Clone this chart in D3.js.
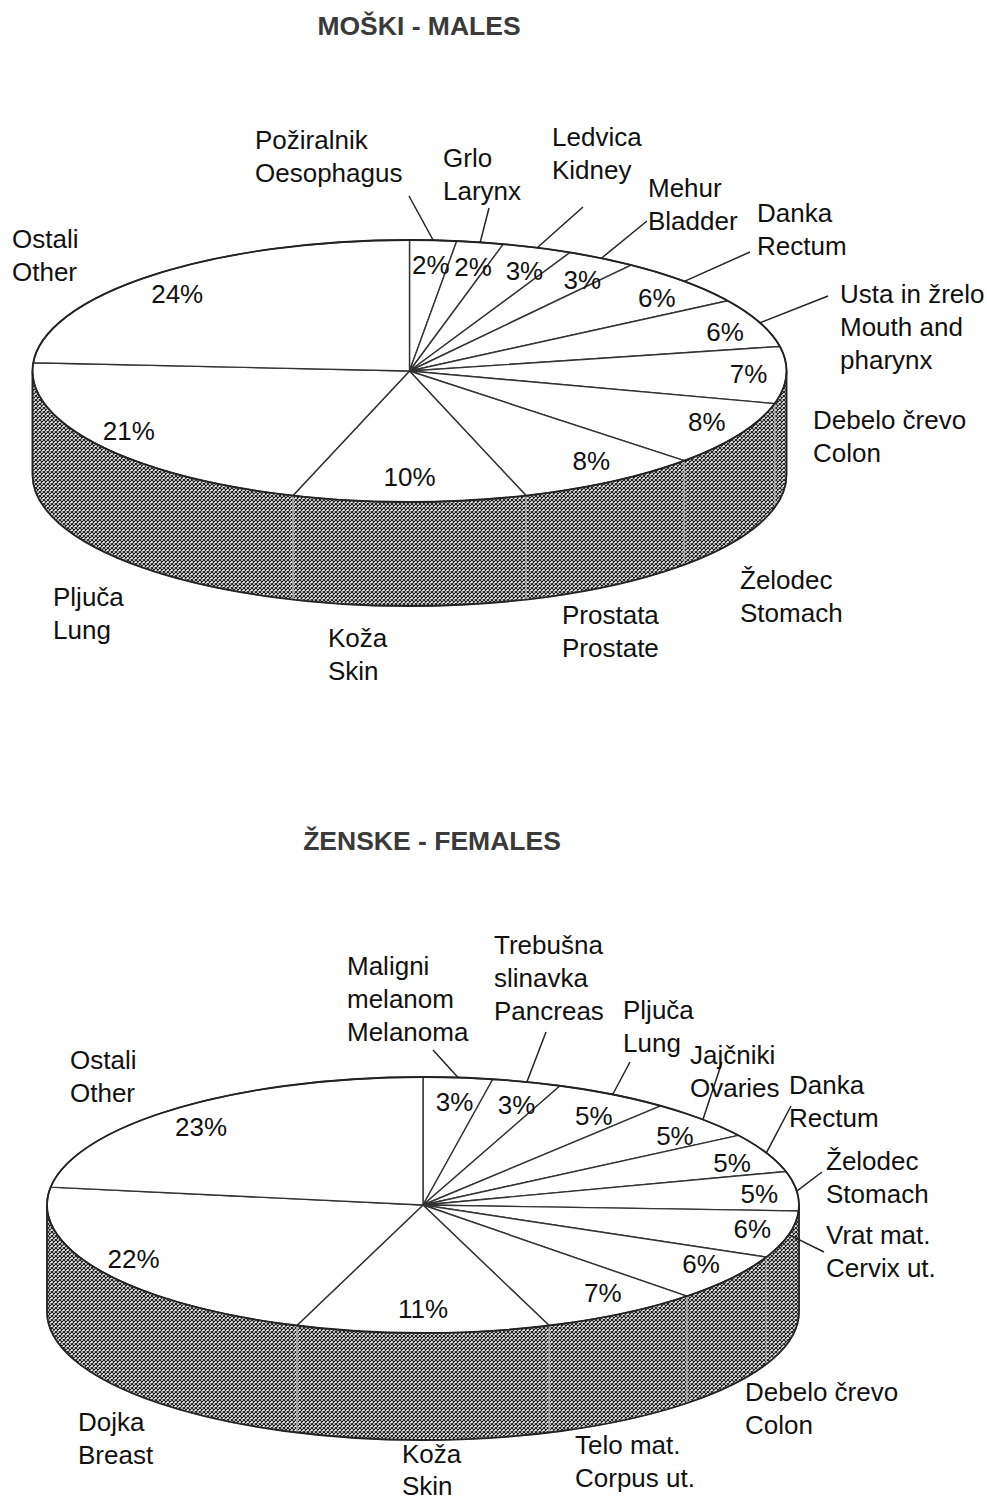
<!DOCTYPE html>
<html>
<head>
<meta charset="utf-8">
<script src="https://cdn.jsdelivr.net/npm/d3@7/dist/d3.min.js"></script>
<style>
body { margin: 0; background: #fff; }
svg text { font-family: "Liberation Sans", Arial, sans-serif; fill: #111; }
</style>
</head>
<body>
<svg id="chart" width="987" height="1503"></svg>
<script>
// males - slices clockwise from 12 o'clock
var maleNames = [
    ["Požiralnik", "Oesophagus"], ["Grlo", "Larynx"], ["Ledvica", "Kidney"],
    ["Mehur", "Bladder"], ["Danka", "Rectum"], ["Usta in žrelo", "Mouth and", "pharynx"],
    ["Debelo črevo", "Colon"], ["Želodec", "Stomach"], ["Prostata", "Prostate"],
    ["Koža", "Skin"], ["Pljuča", "Lung"], ["Ostali", "Other"]
];
var malePercent = [2, 2, 3, 3, 6, 6, 7, 8, 8, 10, 21, 24];

// females
var femaleNames = [
    ["Maligni", "melanom", "Melanoma"], ["Trebušna", "slinavka", "Pancreas"], ["Pljuča", "Lung"],
    ["Jajčniki", "Ovaries"], ["Danka", "Rectum"], ["Želodec", "Stomach"],
    ["Vrat mat.", "Cervix ut."], ["Debelo črevo", "Colon"], ["Telo mat.", "Corpus ut."],
    ["Koža", "Skin"], ["Dojka", "Breast"], ["Ostali", "Other"]
];
var femalePercent = [3, 3, 5, 5, 5, 5, 6, 6, 7, 11, 22, 23];

// label placement (text x, first baseline) and leader start, same order as above
var maleLabelAt = [[255, 149], [443, 167], [552, 146], [648, 197], [757, 222], [840, 303],
    [813, 429], [740, 589], [562, 624], [328, 647], [53, 606], [12, 248]];
var maleLeaderFrom = [[409, 196], [489, 208], [583, 207], [647, 221], [750, 252], [828, 296],
    null, null, null, null, null, null];
var femaleLabelAt = [[347, 975], [494, 954], [623, 1019], [690, 1064], [789, 1094], [826, 1170],
    [826, 1244], [745, 1401], [575, 1454], [402, 1463], [78, 1431], [70, 1069]];
var femaleLeaderFrom = [[433, 1050], [546, 1032], [630, 1062], [722, 1062], [791, 1106], [822, 1172],
    [824, 1252], null, null, null, null, null];

var svg = d3.select('#chart');

var defs = svg.append('defs');
var hatch = defs.append('pattern')
    .attr('id', 'hatch')
    .attr('patternUnits', 'userSpaceOnUse')
    .attr('width', 4)
    .attr('height', 4);
hatch.append('rect').attr('width', 4).attr('height', 4).attr('fill', '#fff');
hatch.append('path')
    .attr('d', 'M-1,-1 L5,5 M5,-1 L-1,5')
    .attr('stroke', '#1c1c1c')
    .attr('stroke-width', 1.2);

function drawPie(props) {
    var g = svg.append('g');
    var cx = props.cx, cy = props.cy, rx = props.rx, ry = props.ry, depth = props.depth;

    var data = props.values.map(function (v, i) {
        return {value: v, names: props.names[i], labelAt: props.labelAt[i], leader: props.leaderFrom[i]};
    });
    var arcs = d3.pie().sort(null).value(function (d) { return d.value; })(data);

    function px(a) { return cx + rx * Math.sin(a); }
    function py(a) { return cy - ry * Math.cos(a); }

    // side walls of the front half
    arcs.forEach(function (d) {
        var a0 = Math.max(d.startAngle, Math.PI / 2);
        var a1 = Math.min(d.endAngle, 3 * Math.PI / 2);
        if (a1 <= a0) return;
        var p = [
            "M", px(a0), py(a0),
            "A", rx, ry, 0, 0, 1, px(a1), py(a1),
            "L", px(a1), py(a1) + depth,
            "A", rx, ry, 0, 0, 0, px(a0), py(a0) + depth,
            "Z"
        ].join(" ");
        g.append('path')
            .attr('d', p)
            .attr('fill', 'url(#hatch)')
            .attr('stroke', '#aaa')
            .attr('stroke-width', 1.4);
    });

    // outer outline of the wall
    g.append('path')
        .attr('d', [
            "M", cx + rx, cy,
            "L", cx + rx, cy + depth,
            "A", rx, ry, 0, 0, 1, cx - rx, cy + depth,
            "L", cx - rx, cy
        ].join(" "))
        .attr('fill', 'none')
        .attr('stroke', '#222')
        .attr('stroke-width', 1.8);

    // top face
    arcs.forEach(function (d) {
        var large = (d.endAngle - d.startAngle) > Math.PI ? 1 : 0;
        var p = [
            "M", cx, cy,
            "L", px(d.startAngle), py(d.startAngle),
            "A", rx, ry, 0, large, 1, px(d.endAngle), py(d.endAngle),
            "Z"
        ].join(" ");
        g.append('path')
            .attr('d', p)
            .attr('fill', '#fff')
            .attr('stroke', '#333')
            .attr('stroke-width', 1.4)
            .attr('stroke-linejoin', 'round');
    });

    g.append('ellipse')
        .attr('cx', cx).attr('cy', cy).attr('rx', rx).attr('ry', ry)
        .attr('fill', 'none')
        .attr('stroke', '#222')
        .attr('stroke-width', 1.8);

    // percent labels inside the slices
    g.selectAll('text.pct')
        .data(arcs)
        .enter().append('text')
        .attr('class', 'pct')
        .attr('x', function (d) { return cx + rx * 0.9 * Math.sin((d.startAngle + d.endAngle) / 2); })
        .attr('y', function (d) { return cy - ry * 0.81 * Math.cos((d.startAngle + d.endAngle) / 2); })
        .attr('dy', '0.35em')
        .attr('text-anchor', 'middle')
        .attr('font-size', 26)
        .text(function (d) { return d.data.value + '%'; });

    // leader lines to the rim
    arcs.forEach(function (d) {
        if (!d.data.leader) return;
        var mid = (d.startAngle + d.endAngle) / 2;
        g.append('line')
            .attr('x1', d.data.leader[0]).attr('y1', d.data.leader[1])
            .attr('x2', px(mid)).attr('y2', py(mid))
            .attr('stroke', '#222')
            .attr('stroke-width', 1.5);
    });

    // organ names
    arcs.forEach(function (d) {
        var t = g.append('text')
            .attr('x', d.data.labelAt[0])
            .attr('y', d.data.labelAt[1])
            .attr('font-size', 26);
        d.data.names.forEach(function (line, i) {
            t.append('tspan')
                .attr('x', d.data.labelAt[0])
                .attr('dy', i == 0 ? 0 : (d.data.labelAt[1] > 1460 ? 32 : 33))
                .text(line);
        });
    });

    svg.append('text')
        .attr('x', props.titleX)
        .attr('y', props.titleY)
        .attr('text-anchor', 'middle')
        .attr('font-size', 26.5)
        .attr('font-weight', 'bold')
        .style('fill', '#3a3a3a')
        .text(props.title);
}

drawPie({
    title: 'MOŠKI - MALES', titleX: 419, titleY: 35,
    cx: 409.5, cy: 371, rx: 377, ry: 131, depth: 104,
    values: malePercent, names: maleNames,
    labelAt: maleLabelAt, leaderFrom: maleLeaderFrom
});

drawPie({
    title: 'ŽENSKE - FEMALES', titleX: 432, titleY: 850,
    cx: 423, cy: 1205, rx: 376, ry: 128, depth: 107,
    values: femalePercent, names: femaleNames,
    labelAt: femaleLabelAt, leaderFrom: femaleLeaderFrom
});
</script>
</body>
</html>
